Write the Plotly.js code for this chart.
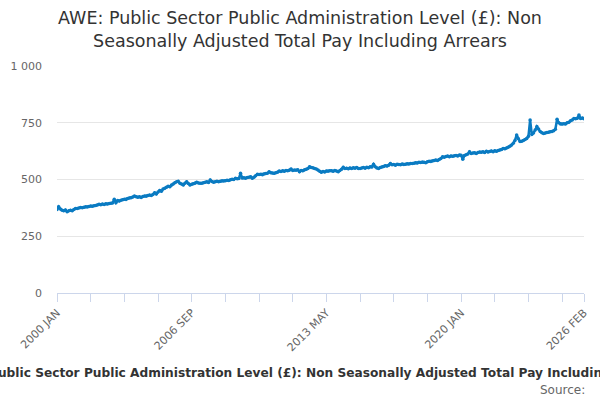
<!DOCTYPE html>
<html>
<head>
<meta charset="utf-8">
<script src="https://cdn.plot.ly/plotly-3.0.1.min.js"></script>
<style>
  html, body { margin: 0; padding: 0; background: #fff; }
  #graph { width: 600px; height: 400px; }
</style>
</head>
<body>
<div id="graph"></div>
<script>
/* ----------------Chart data---------------- */

var firstYear = 2000;
var monthNames = ['JAN', 'FEB', 'MAR', 'APR', 'MAY', 'JUN', 'JUL', 'AUG', 'SEP', 'OCT', 'NOV', 'DEC'];

// Average weekly earnings (£), one value per month
var pay2000 = [368, 380, 370, 365, 362, 366, 358, 362, 365, 362, 368, 372];
var pay2001 = [372, 375, 377, 376, 378, 380, 379, 381, 383, 382, 384, 386];
var pay2002 = [388, 391, 389, 392, 390, 393, 392, 394, 395, 397, 413, 398];
var pay2003 = [407, 405, 409, 411, 413, 412, 416, 418, 420, 423, 427, 424];
var pay2004 = [422, 424, 421, 425, 427, 426, 430, 432, 429, 434, 442, 436];
var pay2005 = [445, 452, 448, 458, 461, 466, 470, 468, 476, 480, 486, 490];
var pay2006 = [492, 483, 480, 476, 484, 490, 482, 476, 479, 481, 484, 488];
var pay2007 = [485, 483, 484, 486, 488, 490, 487, 498, 491, 488, 490, 492];
var pay2008 = [490, 492, 494, 493, 495, 497, 496, 499, 501, 500, 505, 503];
var pay2009 = [504, 527, 507, 508, 506, 509, 510, 512, 505, 510, 516, 523];
var pay2010 = [522, 523, 521, 524, 526, 528, 534, 530, 529, 527, 530, 532];
var pay2011 = [537, 535, 538, 536, 540, 539, 541, 546, 540, 542, 541, 543];
var pay2012 = [534, 540, 538, 543, 545, 548, 556, 553, 552, 548, 546, 542];
var pay2013 = [536, 532, 535, 533, 537, 536, 538, 539, 536, 540, 537, 534];
var pay2014 = [540, 545, 554, 548, 550, 547, 551, 549, 552, 550, 553, 549];
var pay2015 = [549, 551, 553, 550, 554, 552, 556, 555, 567, 556, 551, 549];
var pay2016 = [553, 555, 557, 561, 559, 563, 571, 565, 566, 563, 567, 566];
var pay2017 = [565, 568, 566, 567, 569, 568, 571, 570, 572, 574, 573, 576];
var pay2018 = [575, 577, 576, 574, 578, 580, 579, 582, 584, 586, 584, 588];
var pay2019 = [592, 600, 598, 601, 603, 600, 604, 602, 605, 606, 604, 608];
var pay2020 = [607, 589, 606, 609, 612, 622, 614, 617, 618, 615, 619, 621];
var pay2021 = [620, 622, 619, 625, 621, 623, 626, 622, 627, 624, 628, 630];
var pay2022 = [632, 637, 635, 639, 642, 646, 652, 660, 672, 696, 680, 667];
var pay2023 = [668, 672, 676, 681, 690, 762, 698, 705, 718, 733, 722, 711];
var pay2024 = [706, 703, 705, 707, 708, 710, 711, 715, 721, 765, 750, 745];
var pay2025 = [744, 746, 745, 750, 752, 759, 762, 769, 768, 770, 784, 769];
var pay2026 = [771, 768];

var yTickVals = [0, 250, 500, 750, 1000];
var yTickText = ['0', '250', '500', '750', '1 000'];

var titleText = 'AWE: Public Sector Public Administration Level (£): Non<br>Seasonally Adjusted Total Pay Including Arrears';
var axisTitleText = 'Public Sector Public Administration Level (£): Non Seasonally Adjusted Total Pay Including Arrears';
var sourceText = 'Source:';

/* ----------------Build series---------------- */

var years = [pay2000, pay2001, pay2002, pay2003, pay2004, pay2005, pay2006, pay2007, pay2008,
    pay2009, pay2010, pay2011, pay2012, pay2013, pay2014, pay2015, pay2016, pay2017, pay2018,
    pay2019, pay2020, pay2021, pay2022, pay2023, pay2024, pay2025, pay2026];

var labels = [];
var values = [];
years.forEach(function(yearValues, i) {
    yearValues.forEach(function(v, m) {
        labels.push((firstYear + i) + ' ' + monthNames[m]);
        values.push(v);
    });
});

// tick every 20 months, label every 80, plus the last month
var tickVals = [];
var tickText = [];
for (var i = 0; i < labels.length; i += 20) {
    tickVals.push(labels[i]);
    tickText.push(i % 80 === 0 ? labels[i] : '');
}
tickVals.push(labels[labels.length - 1]);
tickText.push(labels[labels.length - 1]);

var trace0 = {
    x: labels,
    y: values,
    type: 'scatter',
    mode: 'lines+markers',
    line: { color: '#0a7bc2', width: 2.5 },
    marker: { color: '#0a7bc2', size: 3.5 },
    hoverinfo: 'x+y'
};

var layout = {
    width: 600,
    height: 400,
    showlegend: false,
    paper_bgcolor: '#ffffff',
    plot_bgcolor: '#ffffff',
    font: { family: 'DejaVu Sans, sans-serif', color: '#666666', size: 11 },
    margin: { l: 57, r: 16, t: 66, b: 107 },
    title: {
        text: titleText,
        x: 0.5,
        xanchor: 'center',
        y: 0.94,
        yanchor: 'top',
        font: { family: 'DejaVu Sans, sans-serif', size: 17.5, color: '#333333' }
    },
    xaxis: {
        type: 'category',
        range: [0, labels.length - 1],
        autorange: false,
        tickmode: 'array',
        tickvals: tickVals,
        ticktext: tickText,
        tickangle: -45,
        ticks: 'outside',
        ticklen: 8,
        tickcolor: '#ccd6eb',
        showline: true,
        linecolor: '#ccd6eb',
        linewidth: 1,
        showgrid: false,
        zeroline: false,
        tickfont: { size: 11, color: '#666666' }
    },
    yaxis: {
        range: [0, 1000],
        autorange: false,
        tickmode: 'array',
        tickvals: yTickVals,
        ticktext: yTickText,
        ticks: '',
        ticklabelstandoff: 14,
        showgrid: true,
        gridcolor: '#e6e6e6',
        gridwidth: 1,
        zeroline: false,
        showline: false,
        tickfont: { size: 11, color: '#666666' }
    },
    annotations: [{
        text: '<b>' + axisTitleText + '</b>',
        xref: 'paper',
        yref: 'paper',
        x: 0.513,
        y: -0.352,
        xanchor: 'center',
        yanchor: 'middle',
        showarrow: false,
        font: { size: 12.2, color: '#333333' }
    }, {
        text: sourceText,
        xref: 'paper',
        yref: 'paper',
        x: 1.0057,
        y: -0.4295,
        xanchor: 'right',
        yanchor: 'middle',
        showarrow: false,
        font: { size: 12, color: '#666666' }
    }]
};

var graph = document.getElementById('graph');
Plotly.newPlot(graph, [trace0], layout, { staticPlot: true });
</script>
</body>
</html>
